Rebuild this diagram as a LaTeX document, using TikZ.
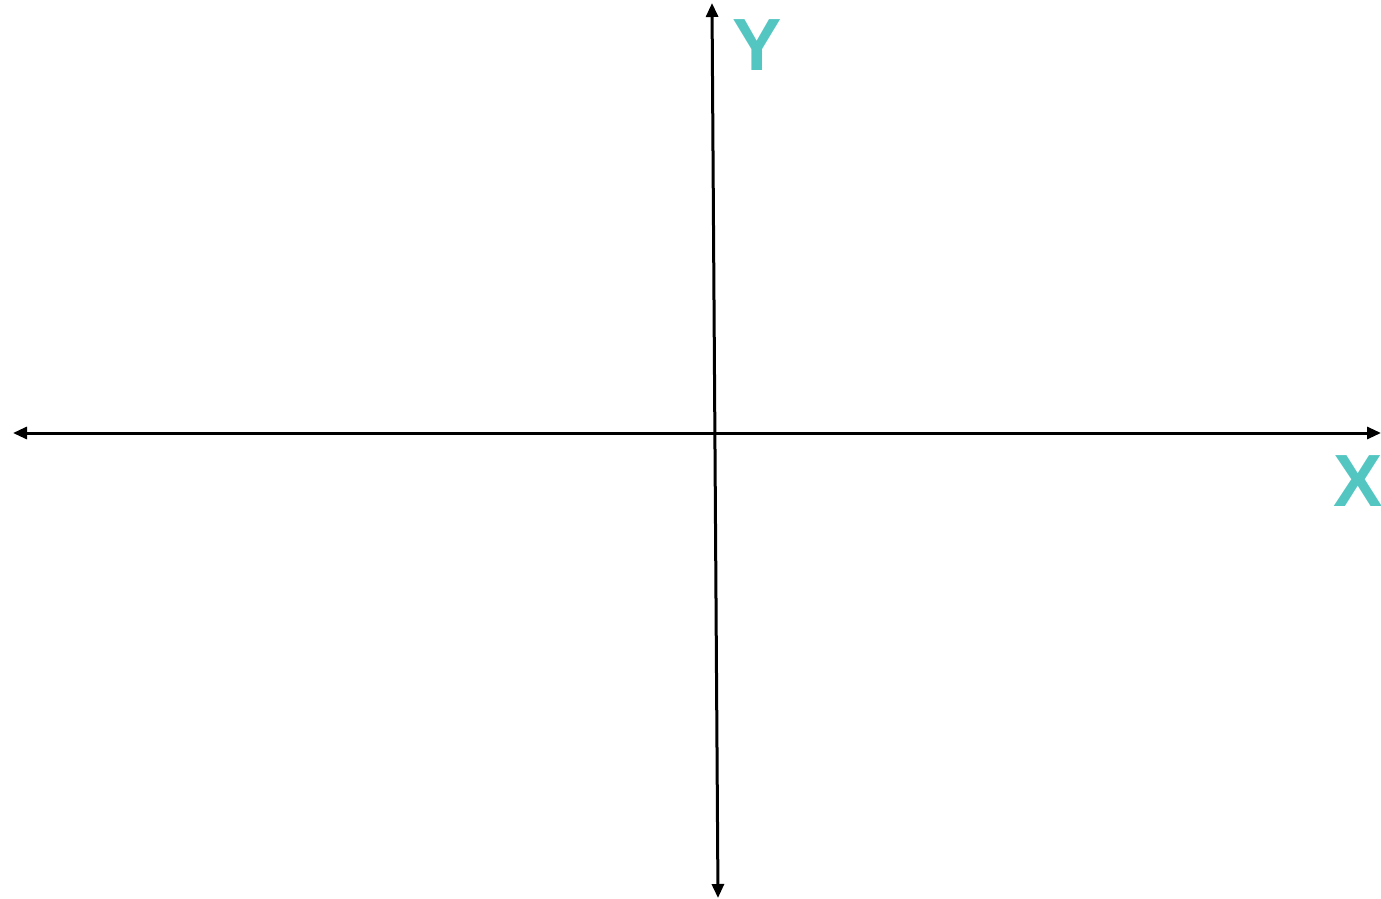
\documentclass[tikz,border=0pt]{standalone}
\usepackage{fontspec}
\setmainfont{Liberation Sans}
\usetikzlibrary{arrows.meta,positioning}
\definecolor{labelteal}{RGB}{84,198,194}

\begin{document}
\begin{tikzpicture}[
    x=0.5pt,
    y=-0.5pt,
    axis/.style={draw=black, line width=1.5pt, {Triangle[length=7pt,width=6pt]}-{Triangle[length=7pt,width=6pt]}},
    axislabel/.style={text=labelteal, font=\fontsize{37}{37}\selectfont\bfseries, inner sep=0pt}
  ]
    \useasboundingbox (0,0) rectangle (1381,899);
    \coordinate (xleft) at (13,433);
    \coordinate (xright) at (1381,433);
    \coordinate (ytop) at (712,3);
    \coordinate (ybottom) at (718,898);
    \draw[axis] (xleft) -- (xright);
    \draw[axis] (ybottom) -- (ytop);
    \node[axislabel] (ylabel) at (757,45) {Y};
    \node[axislabel] (xlabel) at (1358,481) {X};
  \end{tikzpicture}
\end{document}
